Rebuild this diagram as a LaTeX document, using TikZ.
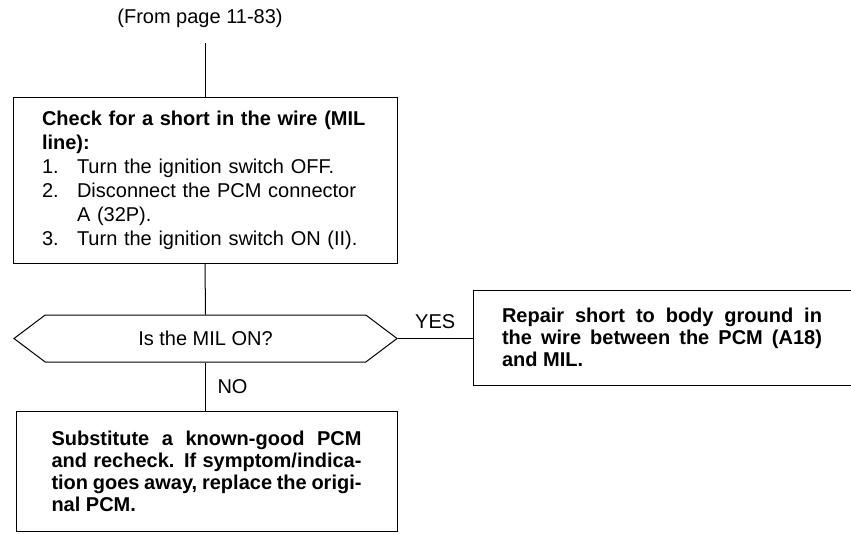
\documentclass[tikz,border=0pt]{standalone}
\usepackage{fontspec}
\setmainfont{Liberation Sans}
\usetikzlibrary{positioning,shapes.symbols}

\newcommand{\stepno}[1]{\makebox[35pt][l]{#1}}

\begin{document}
\begin{tikzpicture}[x=1pt, y=-1pt,
    checkBox/.style={rectangle, draw, line width=1pt, font=\fontsize{20}{24}\selectfont, align=left, text width=326pt, minimum width=384pt, minimum height=166pt, inner sep=0pt},
    actionBox/.style={rectangle, draw, line width=1pt, font=\fontsize{20}{22}\selectfont\bfseries, align=justify, inner sep=0pt},
    queryShape/.style={signal, signal to=west and east, signal pointer angle=74, draw, line width=1pt, minimum width=383pt, minimum height=47pt, inner sep=0pt, font=\fontsize{20}{24}\selectfont},
    labelText/.style={font=\fontsize{20}{24}\selectfont, inner sep=2pt},
    lineStyle/.style={line width=1pt}
]
    \useasboundingbox (0,0) rectangle (851,533);

    \node[labelText] (from) at (200,18) {(From page 11-83)};
    \coordinate (lead) at (205,43);

    \node[checkBox] (check) at (205,180) {%
        \textbf{Check for a short in the wire (MIL}\\
        \textbf{line):}\\
        \stepno{1.}Turn the ignition switch OFF.\\
        \stepno{2.}Disconnect the PCM connector\\
        \stepno{}A (32P).\\
        \stepno{3.}Turn the ignition switch ON (II).%
    };

    \node[queryShape] (query) at (205.5,338.5) {Is the MIL ON?};

    \node[actionBox, text width=320pt, minimum width=378pt, minimum height=95pt] (repair) at (662,337.5) {%
        Repair short to body ground in\linebreak
        the wire between the PCM (A18)\linebreak
        and MIL.%
    };

    \node[actionBox, text width=310pt, minimum width=381pt, minimum height=120pt] (swap) at (206.5,471.5) {%
        Substitute a known-good PCM\linebreak
        and recheck. If symptom/indica-\linebreak
        tion goes away, replace the origi-\linebreak
        nal PCM.%
    };

    \draw[lineStyle] (lead) -- (check.north);
    \draw[lineStyle] (check.south) -- (query.north);
    \draw[lineStyle] (query.east) -- node[labelText, above=7pt] {YES} (repair.west |- query.east);
    \draw[lineStyle] (query.south) -- node[labelText, right=9.5pt] {NO} (query.south |- swap.north);
\end{tikzpicture}
\end{document}
